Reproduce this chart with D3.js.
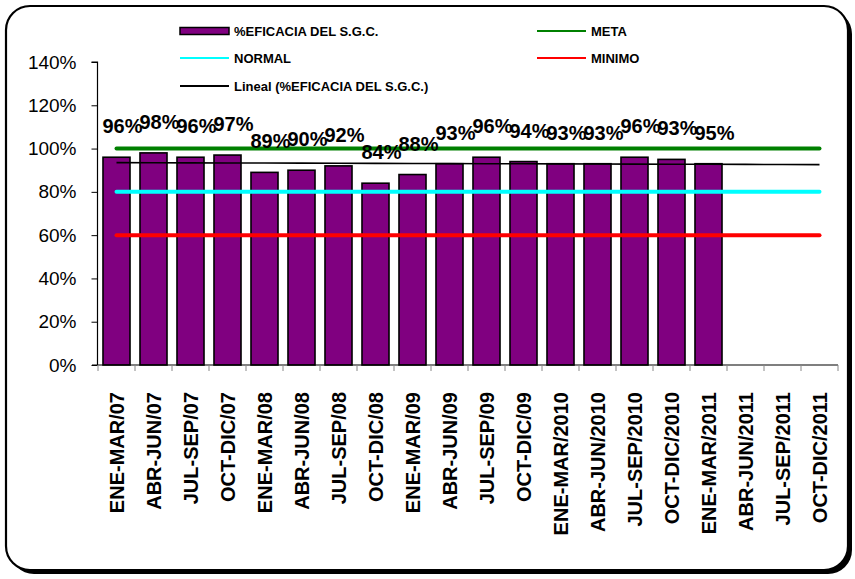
<!DOCTYPE html>
<html>
<head>
<meta charset="utf-8">
<script src="https://cdn.jsdelivr.net/npm/d3@7/dist/d3.min.js"></script>
<style>
  html, body { margin: 0; padding: 0; background: #ffffff; }
  svg { display: block; font-family: "Liberation Sans", Arial, sans-serif; }
</style>
</head>
<body>
<svg id="chart" width="855" height="579"></svg>
<script>
// ---- data ----
const categories = ["ENE-MAR/07","ABR-JUN/07","JUL-SEP/07","OCT-DIC/07","ENE-MAR/08","ABR-JUN/08","JUL-SEP/08","OCT-DIC/08","ENE-MAR/09","ABR-JUN/09","JUL-SEP/09","OCT-DIC/09","ENE-MAR/2010","ABR-JUN/2010","JUL-SEP/2010","OCT-DIC/2010","ENE-MAR/2011","ABR-JUN/2011","JUL-SEP/2011","OCT-DIC/2011"];
const eficacia = [96, 98, 96, 97, 89, 90, 92, 84, 88, 93, 96, 94, 93, 93, 96, 95, 93];
const dataLabels = ["96%","98%","96%","97%","89%","90%","92%","84%","88%","93%","96%","94%","93%","93%","96%","93%","95%"];
const meta = 100;
const normal = 80;
const minimo = 60;
const yTicks = [0, 20, 40, 60, 80, 100, 120, 140];
const legendItems = ["%EFICACIA DEL S.G.C.", "META", "NORMAL", "MINIMO", "Lineal (%EFICACIA DEL S.G.C.)"];

// ---- layout ----
const svg = d3.select("#chart");
const font = '"Liberation Sans", Arial, sans-serif';

// frame with shadow
svg.append("rect").attr("x", 10).attr("y", 10).attr("width", 842).attr("height", 564)
  .attr("rx", 24).attr("fill", "#000");
svg.append("rect").attr("x", 6).attr("y", 6).attr("width", 842).attr("height", 564)
  .attr("rx", 24).attr("fill", "#fff").attr("stroke", "#000").attr("stroke-width", 2.2);

const plot = { left: 98, right: 838, top: 62, bottom: 365 };

const x = d3.scaleBand().domain(categories).range([plot.left, plot.right]).paddingInner(0.27).paddingOuter(0.135);
const xc = d3.scaleBand().domain(categories).range([plot.left, plot.right]);
const y = d3.scaleLinear().domain([0, 140]).range([plot.bottom, plot.top]);

// y axis
const yAxis = svg.append("g").attr("transform", `translate(${plot.left - 0.5},0)`)
  .call(d3.axisLeft(y).tickValues(yTicks).tickFormat(d => d + "%").tickSize(6).tickPadding(15));
yAxis.select(".domain").attr("stroke", "#000").attr("stroke-width", 1.2).attr("d", `M-6,${y(140)}H0V${plot.bottom}`);
yAxis.selectAll(".tick line").attr("stroke", "#000").attr("stroke-width", 1);
yAxis.selectAll(".tick text").attr("font-size", 19).attr("font-family", font).attr("fill", "#000");

// bars
svg.append("g").selectAll("rect").data(eficacia).join("rect")
  .attr("x", (d, i) => x(categories[i]))
  .attr("y", d => y(d))
  .attr("width", x.bandwidth())
  .attr("height", d => y(0) - y(d))
  .attr("fill", "#800080")
  .attr("stroke", "#000")
  .attr("stroke-width", 1.6);

// x axis
const xAxis = svg.append("g").attr("transform", `translate(0,${plot.bottom})`)
  .call(d3.axisBottom(xc).tickSize(0).tickPadding(0));
xAxis.select(".domain").attr("stroke", "#000").attr("stroke-width", 1.2).attr("d", `M${plot.left - 6},0H${plot.right}`);
// boundary ticks
xAxis.append("g").selectAll("line").data(d3.range(categories.length + 1)).join("line")
  .attr("x1", i => plot.left + i * xc.step()).attr("x2", i => plot.left + i * xc.step())
  .attr("y1", 0).attr("y2", 6).attr("stroke", "#888").attr("stroke-width", 1);
xAxis.selectAll(".tick text")
  .attr("font-size", 20).attr("font-weight", "bold").attr("font-family", font).attr("fill", "#000")
  .attr("text-anchor", "end")
  .attr("dy", "0.35em")
  .attr("transform", "translate(0,27) rotate(-90)");

// reference lines
const lineX1 = xc(categories[0]) + xc.bandwidth() / 2;
const lineX2 = xc(categories[categories.length - 1]) + xc.bandwidth() / 2;
[[minimo, "#ff0000"], [normal, "#00ffff"], [meta, "#008000"]].forEach(([v, c]) => {
  svg.append("line").attr("x1", lineX1).attr("x2", lineX2)
    .attr("y1", y(v)).attr("y2", y(v))
    .attr("stroke", c).attr("stroke-width", 4).attr("stroke-linecap", "round");
});

// linear trend (least squares over existing values), extended across all categories
const n = eficacia.length;
const xs = d3.range(1, n + 1);
const mx = d3.mean(xs), my = d3.mean(eficacia);
const slope = d3.sum(xs, (v, i) => (v - mx) * (eficacia[i] - my)) / d3.sum(xs, v => (v - mx) * (v - mx));
const intercept = my - slope * mx;
const trend = categories.map((c, i) => ({ c, v: intercept + slope * (i + 1) }));
svg.append("path").datum(trend)
  .attr("d", d3.line().x(d => xc(d.c) + xc.bandwidth() / 2).y(d => y(d.v)))
  .attr("fill", "none").attr("stroke", "#000").attr("stroke-width", 1.6);

// data labels
svg.append("g").selectAll("text").data(eficacia).join("text")
  .attr("x", (d, i) => x(categories[i]) + x.bandwidth() / 2 + 6)
  .attr("y", d => y(d) - 24)
  .attr("text-anchor", "middle")
  .attr("font-size", 20).attr("font-weight", "bold").attr("font-family", font).attr("fill", "#000")
  .text((d, i) => dataLabels[i]);

// legend
const legend = svg.append("g").attr("font-family", font).attr("font-size", 13).attr("font-weight", "bold");
const legPos = [[180, 31], [537, 31], [180, 58], [537, 58], [180, 86]];
legendItems.forEach((t, i) => {
  const [lx, ly] = legPos[i];
  const g = legend.append("g").attr("transform", `translate(${lx},${ly})`);
  if (i === 0) {
    g.append("rect").attr("x", 0).attr("y", -3.5).attr("width", 49).attr("height", 7)
      .attr("fill", "#800080").attr("stroke", "#000").attr("stroke-width", 1.5);
  } else {
    const col = ["", "#008000", "#00ffff", "#ff0000", "#000"][i];
    g.append("line").attr("x1", 0).attr("x2", 49).attr("y1", 0).attr("y2", 0)
      .attr("stroke", col).attr("stroke-width", 2);
  }
  g.append("text").attr("x", 54).attr("y", 0).attr("dy", "0.35em").attr("fill", "#000").text(t);
});
</script>
</body>
</html>
